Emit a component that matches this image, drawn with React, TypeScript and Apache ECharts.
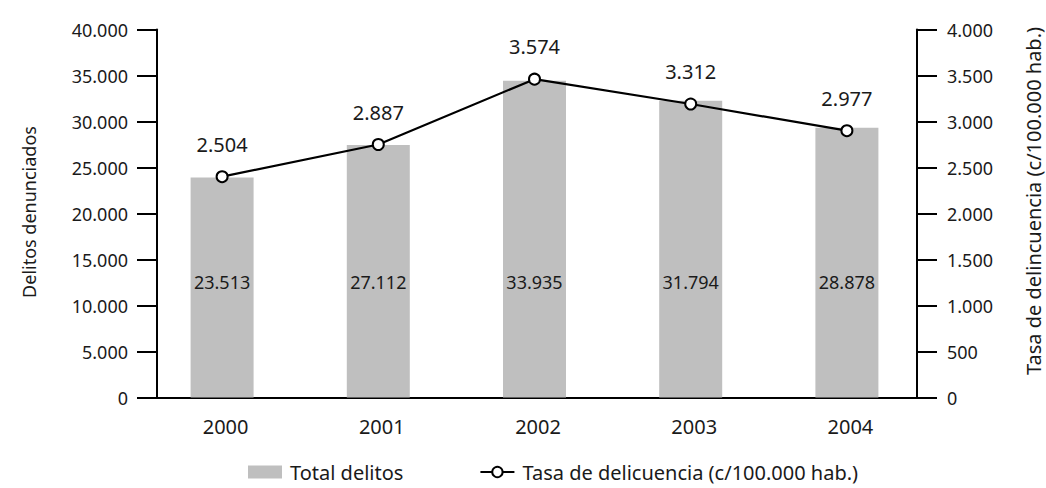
import React, { useEffect, useRef } from "react";
import * as echarts from "echarts";

// Categories
const years = ["2000", "2001", "2002", "2003", "2004"];
// Bar heights as drawn in the picture (left axis)
const totalDelitos = [23900, 27450, 34430, 32260, 29330];
// Bar value labels as printed
const totalDelitosLabels = ["23.513", "27.112", "33.935", "31.794", "28.878"];
// Line point heights as drawn in the picture (right axis)
const tasa = [2400, 2750, 3460, 3190, 2900];
// Line value labels as printed
const tasaLabels = ["2.504", "2.887", "3.574", "3.312", "2.977"];

const leftTitle = "Delitos denunciados";
const rightTitle = "Tasa de delincuencia (c/100.000 hab.)";
const barName = "Total delitos";
const lineName = "Tasa de delicuencia (c/100.000 hab.)";

const FONT = "Noto Sans";
const TXT = "#1a1a1a";
const fmt = (v: number) => String(v).replace(/\B(?=(\d{3})+(?!\d))/g, ".");

export default function App() {
  const ref = useRef<HTMLDivElement>(null);
  useEffect(() => {
    if (!ref.current) return;
    const chart = echarts.init(ref.current, undefined, { renderer: "svg" });
    const axisCommon = {
      type: "value" as const,
      axisLine: { show: true, lineStyle: { color: "#000", width: 2 } },
      axisTick: { show: true, length: 20, lineStyle: { color: "#000", width: 2 } },
      splitLine: { show: false },
    };
    chart.setOption({
      animation: false,
      textStyle: { fontFamily: FONT, fontSize: 18, color: TXT },
      grid: { left: 144, right: 121, top: 29.5, bottom: 90.5 },
      xAxis: {
        type: "category",
        data: years,
        axisLine: { show: true, lineStyle: { color: "#000", width: 2 } },
        axisTick: { show: false },
        axisLabel: { margin: 19, fontSize: 20, color: TXT, fontFamily: FONT, padding: [0, 0, 0, 7] },
      },
      yAxis: [
        {
          ...axisCommon,
          position: "left",
          offset: -13,
          min: 0,
          max: 40000,
          interval: 5000,
          axisLabel: { margin: 29, fontSize: 18, color: TXT, fontFamily: FONT, formatter: fmt },
        },
        {
          ...axisCommon,
          position: "right",
          offset: -8,
          min: 0,
          max: 4000,
          interval: 500,
          axisLabel: { margin: 30, fontSize: 18, color: TXT, fontFamily: FONT, formatter: fmt },
        },
      ],
      legend: {
        left: 248,
        top: 462,
        padding: 0,
        itemGap: 76,
        itemWidth: 34,
        itemHeight: 13,
        textStyle: { fontFamily: FONT, fontSize: 20, color: TXT, padding: [0, 0, 0, 3] },
        data: [
          { name: barName, icon: "rect" },
          { name: lineName },
        ],
      },
      graphic: [
        {
          type: "text",
          x: 29,
          y: 212,
          rotation: Math.PI / 2,
          style: { text: leftTitle, font: `18px "${FONT}"`, fill: TXT, align: "center", verticalAlign: "middle" },
        },
        {
          type: "text",
          x: 1033,
          y: 201,
          rotation: Math.PI / 2,
          style: { text: rightTitle, font: `20px "${FONT}"`, fill: TXT, align: "center", verticalAlign: "middle" },
        },
      ],
      series: [
        {
          type: "bar",
          name: barName,
          data: totalDelitos,
          barWidth: 63,
          itemStyle: { color: "#bfbfbf" },
          label: {
            show: true,
            position: "insideBottom",
            distance: 107,
            fontSize: 18,
            fontFamily: FONT,
            color: TXT,
            formatter: (p: any) => totalDelitosLabels[p.dataIndex],
          },
        },
        {
          type: "line",
          name: lineName,
          yAxisIndex: 1,
          data: tasa,
          symbol: "circle",
          symbolSize: 11,
          lineStyle: { color: "#000", width: 2.2 },
          itemStyle: { color: "#fff", borderColor: "#000", borderWidth: 2 },
          label: {
            show: true,
            position: "top",
            distance: 16,
            fontSize: 20,
            fontFamily: FONT,
            color: TXT,
            formatter: (p: any) => tasaLabels[p.dataIndex],
          },
          z: 3,
        },
      ],
    });
    return () => chart.dispose();
  }, []);
  return <div ref={ref} style={{ width: 1046, height: 488, position: "absolute", left: 0, top: 0 }} />;
}
